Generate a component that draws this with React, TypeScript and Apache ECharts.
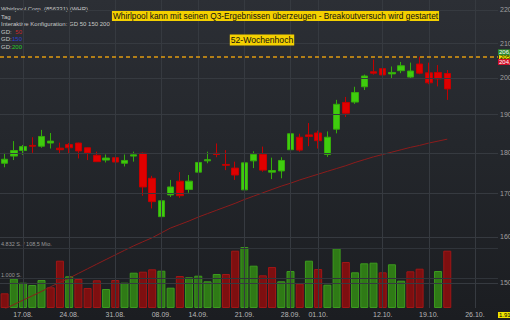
import React, { useEffect, useRef } from 'react';
import * as echarts from 'echarts';

const dates = [
  '13.08.', '14.08.', '17.08.', '18.08.', '19.08.', '20.08.', '21.08.', '24.08.', '25.08.', '26.08.', '27.08.', '28.08.', '31.08.',
  '01.09.', '02.09.', '03.09.', '04.09.', '08.09.', '09.09.', '10.09.', '11.09.', '14.09.', '15.09.', '16.09.', '17.09.', '18.09.',
  '21.09.', '22.09.', '23.09.', '24.09.', '25.09.', '28.09.', '29.09.', '30.09.',
  '01.10.', '02.10.', '05.10.', '06.10.', '07.10.', '08.10.', '09.10.', '12.10.', '13.10.', '14.10.', '15.10.', '16.10.',
  '19.10.', '20.10.', '21.10.', '22.10.', '23.10.', '26.10.', '27.10.', '28.10.',
];

const opens = [177.4, 179.2, 180.6, 181.9, 181.7, 182.5, 181.2, 182.1, 182.5, 181.3, 179.4, 178.2, 178.8, 177.4, 179.2, 179.9, 173.7, 164.6, 169.7, 173.0, 171.0, 175.2, 178.0, 179.9, 177.1, 176.2, 170.9, 178.0, 179.6, 175.2, 175.5, 180.8, 184.0, 184.6, 185.1, 179.6, 186.1, 193.2, 193.3, 197.5, 201.7, 202.6, 201.1, 202.0, 200.2, 203.9, 201.4, 201.5, 201.2];
const closes = [178.4, 180.6, 181.6, 181.7, 184.2, 183.0, 180.8, 181.3, 180.5, 180.0, 177.8, 178.7, 177.7, 178.1, 179.5, 171.6, 168.1, 168.3, 171.6, 169.5, 173.0, 177.6, 178.3, 179.6, 176.9, 174.5, 177.5, 179.6, 175.7, 175.6, 178.1, 184.9, 180.7, 184.2, 183.1, 184.0, 192.7, 190.3, 195.9, 200.5, 201.3, 200.8, 201.5, 203.4, 201.9, 201.3, 198.6, 199.7, 196.9];
const lows = [176.4, 178.2, 179.5, 180.0, 181.3, 181.1, 179.7, 179.7, 178.6, 178.2, 177.7, 177.6, 176.9, 176.6, 177.8, 169.5, 166.5, 163.8, 169.2, 169.0, 170.2, 174.0, 177.4, 178.9, 175.7, 173.3, 170.1, 176.2, 175.3, 173.5, 173.7, 179.3, 180.3, 181.7, 181.1, 179.0, 185.0, 189.3, 192.8, 196.6, 200.9, 199.6, 199.7, 201.3, 199.8, 201.0, 198.2, 197.6, 193.9];
const highs = [180.0, 183.0, 182.0, 184.0, 185.9, 185.1, 182.6, 182.5, 182.6, 181.4, 180.3, 179.6, 179.0, 179.6, 180.3, 180.1, 174.3, 172.3, 173.3, 175.2, 174.5, 178.2, 180.3, 182.4, 180.7, 177.8, 177.8, 180.4, 181.6, 178.8, 178.9, 185.5, 184.9, 187.7, 185.7, 185.5, 193.9, 194.7, 197.5, 200.9, 205.2, 203.2, 203.2, 204.5, 204.3, 206.0, 204.3, 203.6, 202.2];

// volume in thousand shares
const volumes: (number | null)[] = [490, 977, 843, 767, 933, 690, 1577, 1057, 967, 667, 923, 633, 933, 843, 1177, 1210, 1290, 1243, 677, 1067, 1023, 1077, 890, 1133, 1133, 1910, 2033, 1410, 1090, 1367, 890, 1233, 810, 1577, 1300, 777, 1990, 1533, 1190, 1490, 1510, 1190, 1457, 910, 1223, 1310, null, 1233, 1910];

const ma50 = [144.6, 145.5, 146.4, 147.3, 148.2, 149.2, 150.1, 151.0, 152.0, 153.0, 154.0, 155.0, 156.0, 157.0, 158.0, 158.9, 159.8, 160.9, 162.0, 162.8, 163.6, 164.5, 165.3, 166.1, 166.9, 167.7, 168.6, 169.4, 170.2, 171.0, 171.8, 172.5, 173.3, 174.0, 174.7, 175.4, 176.1, 176.8, 177.6, 178.3, 179.0, 179.6, 180.2, 180.8, 181.4, 181.9, 182.5, 183.0, 183.5];

const priceTicks = [150, 160, 170, 180, 190, 200, 210, 220];
const volumeTicks = [1000, 2000];
const dateLabels = ['17.08.', '24.08.', '31.08.', '08.09.', '14.09.', '21.09.', '28.09.', '01.10.', '12.10.', '19.10.', '26.10.'];
const high52w = 205.93;
const prevClose = 179.0;
const priceMin = 144.8;
const priceMax = 223.06;
const volumeMax = 10267;

const fmt = (v: number) => v.toFixed(2).replace('.', ',');

const UP = '#3fcc0e';
const DOWN = '#e00000';
const GRID = '#363a40';
const FONT = 'Liberation Sans, Arial, sans-serif';

export default function App() {
  const ref = useRef<HTMLDivElement>(null);
  useEffect(() => {
    if (!ref.current) return;
    const chart = echarts.init(ref.current, undefined, { renderer: 'svg' });
    const candleData = opens.map((o, i) => [o, closes[i], lows[i], highs[i]]);
    const volData = volumes.map((v, i) => {
      if (v == null) return '-';
      const pc = i === 0 ? prevClose : closes[i - 1];
      const up = closes[i] >= pc;
      return {
        value: v,
        itemStyle: {
          color: up ? '#2f7a16' : '#7e0f10',
          borderColor: up ? '#3c9a1e' : '#a01616',
          borderWidth: 1,
        },
      };
    });
    const labelStyle = { color: '#a0a0a0', fontSize: 7, fontFamily: FONT };
    const hdr = { fill: '#c8c8c8', fontSize: 6, fontFamily: FONT, verticalAlign: 'middle' };
    const option: any = {
      animation: false,
      backgroundColor: 'transparent',
      grid: { left: -2, right: 12, top: 0, bottom: 12 },
      xAxis: {
        type: 'category',
        data: dates,
        boundaryGap: true,
        axisLine: { show: false },
        axisTick: { show: false },
        splitLine: { show: false },
        axisLabel: {
          interval: (_i: number, v: string) => dateLabels.includes(v),
          color: '#b8b8b8',
          fontSize: 7,
          fontFamily: FONT,
          margin: 3,
        },
      },
      yAxis: [
        { type: 'log', logBase: 10, min: priceMin, max: priceMax, show: false },
        { type: 'value', min: 0, max: volumeMax, show: false },
      ],
      series: [
        {
          type: 'line',
          data: ma50,
          symbol: 'none',
          lineStyle: { opacity: 0 },
          silent: true,
          z: 1,
          markLine: {
            silent: true,
            symbol: ['none', 'none'],
            animation: false,
            data: [
              ...priceTicks.map((v) => ({
                yAxis: v,
                lineStyle: { color: GRID, width: 1, type: 'solid' },
                label: { show: true, position: 'end', formatter: fmt(v), distance: 2, ...labelStyle },
              })),
              ...dateLabels.map((d) => ({
                xAxis: dates.indexOf(d),
                lineStyle: { color: GRID, width: 1, type: 'solid' },
                label: { show: false },
              })),
            ],
          },
        },
        {
          type: 'bar',
          yAxisIndex: 1,
          data: volData,
          barWidth: 8,
          z: 2,
          silent: true,
          markLine: {
            silent: true,
            symbol: ['none', 'none'],
            animation: false,
            data: volumeTicks.map((v) => ({
              yAxis: v,
              lineStyle: { color: '#30343a', width: 1, type: 'solid' },
              label: { show: false },
            })),
          },
        },
        {
          type: 'line',
          data: ma50,
          symbol: 'none',
          silent: true,
          lineStyle: { color: '#8c1c1c', width: 1 },
          z: 3,
          markLine: {
            silent: true,
            symbol: ['none', 'none'],
            animation: false,
            data: [
              {
                yAxis: high52w,
                lineStyle: { color: '#e09a10', width: 1.5, type: [4, 3] },
                label: {
                  show: true, position: 'end', formatter: fmt(high52w), distance: 1,
                  backgroundColor: '#f0e400', color: '#000', fontSize: 6, fontFamily: FONT, padding: [0, 1],
                },
              },
              {
                yAxis: ma50[ma50.length - 1],
                lineStyle: { opacity: 0 },
                label: {
                  show: true, position: 'end', formatter: fmt(ma50[ma50.length - 1]), distance: 1,
                  backgroundColor: '#f0e400', borderColor: '#c8a000', borderWidth: 0.5,
                  color: '#000', fontSize: 6, fontFamily: FONT, padding: [0, 1],
                },
              },
            ],
          },
        },
        {
          type: 'candlestick',
          data: candleData,
          barWidth: 7,
          z: 4,
          silent: true,
          itemStyle: {
            color: UP,
            color0: DOWN,
            borderColor: '#34ac0a',
            borderColor0: '#c40000',
            borderWidth: 1,
          },
        },
      ],
      graphic: [
        { type: 'text', x: 1, y: 9, style: { text: 'Whirlpool Corp. (856331) (WHR)', ...hdr } },
        { type: 'text', x: 1, y: 16.6, style: { text: 'Tag', ...hdr } },
        { type: 'text', x: 1, y: 24.2, style: { text: 'Interaktive Konfiguration: GD 50 150 200', ...hdr } },
        { type: 'text', x: 1, y: 31.8, style: { text: 'GD:', ...hdr } },
        { type: 'text', x: 22, y: 31.8, style: { ...hdr, text: '50', fill: '#c8282c', align: 'right' } },
        { type: 'text', x: 1, y: 39.4, style: { text: 'GD:', ...hdr } },
        { type: 'text', x: 22, y: 39.4, style: { ...hdr, text: '150', fill: '#3040d0', align: 'right' } },
        { type: 'text', x: 1, y: 47, style: { text: 'GD:', ...hdr } },
        { type: 'text', x: 22, y: 47, style: { ...hdr, text: '200', fill: '#28d028', align: 'right' } },
        {
          type: 'text', x: 275.5, y: 16, z: 10,
          style: {
            text: 'Whirlpool kann mit seinen Q3-Ergebnissen überzeugen - Breakoutversuch wird gestartet',
            fill: '#111', fontSize: 8.3, fontFamily: FONT, align: 'center', verticalAlign: 'middle',
            backgroundColor: '#f4d000', padding: [1, 1],
          },
        },
        {
          type: 'text', x: 262, y: 40, z: 10,
          style: {
            text: '52-Wochenhoch', fill: '#111', fontSize: 8.6, fontFamily: FONT, align: 'center', verticalAlign: 'middle',
            backgroundColor: '#f4d000', padding: [1, 1],
          },
        },
        { type: 'text', x: 498, y: 52.3, z: 10, style: { text: '206,90', fill: '#fff', fontSize: 6, fontFamily: FONT, verticalAlign: 'middle', backgroundColor: '#2e8a2e', padding: [0, 1] } },
        { type: 'text', x: 498, y: 62, z: 10, style: { text: '204,18', fill: '#fff', fontSize: 6, fontFamily: FONT, verticalAlign: 'middle', backgroundColor: '#d0102a', padding: [0, 1] } },
        { type: 'text', x: 498, y: 315, z: 10, style: { text: '1.910', fill: '#000', fontSize: 6, fontFamily: FONT, verticalAlign: 'middle', backgroundColor: '#f0e400', padding: [0, 1] } },
        { type: 'text', x: 1, y: 244, style: { text: '4.832 S. / 108,5 Mio.', fill: '#9a9a9a', fontSize: 5.5, fontFamily: FONT, verticalAlign: 'middle' } },
        { type: 'text', x: 1, y: 275, style: { text: '1.000 S.', fill: '#9a9a9a', fontSize: 5.5, fontFamily: FONT, verticalAlign: 'middle' } },
      ],
    };
    chart.setOption(option);
    return () => chart.dispose();
  }, []);
  return (
    <div
      ref={ref}
      style={{
        position: 'fixed',
        left: 0,
        top: 0,
        width: 510,
        height: 320,
        background: 'linear-gradient(180deg, #2c2f35 0%, #24272c 45%, #1b1d21 100%)',
      }}
    />
  );
}
